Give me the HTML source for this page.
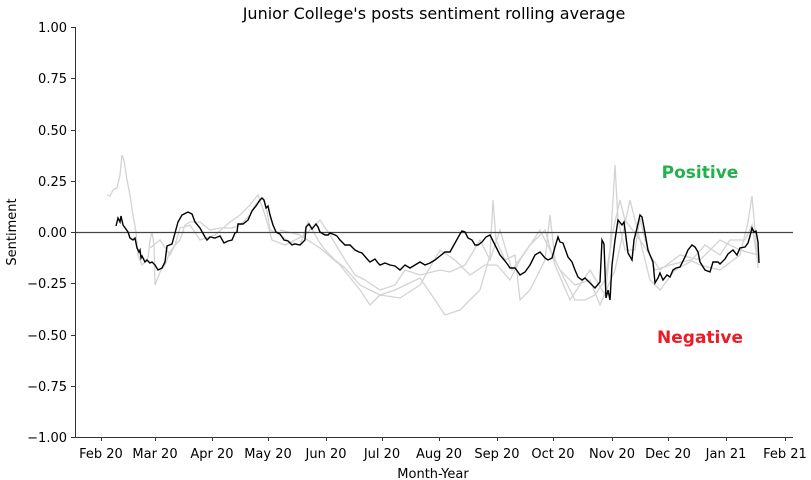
<!DOCTYPE html>
<html><head><meta charset="utf-8"><style>body{margin:0;background:#fff}svg{display:block;font-family:"DejaVu Sans","Liberation Sans",sans-serif}</style></head>
<body>
<svg width="811" height="480" viewBox="0 0 811 480">
<text x="434" y="19" font-size="16" text-anchor="middle">Junior College's posts sentiment rolling average</text>
<g fill="none" stroke="#d3d3d3" stroke-width="1.3">
<polyline points="107,195 110,196 113,190 117,188 120,175 122,155 124,160 127,180 130,195 133,215 136,232 138,255 142,265 145,262 148,258 150,240 152,232 154,245 155,285 160,272 165,265 170,252 175,245 180,240 185,225 190,222 200,222 210,230 220,228 232,228 240,225 250,215 255,205 262,198 266,205 270,230 275,232 280,235 290,242 300,245 308,222 318,240 325,250 335,260 345,268 360,285 370,290 380,295 395,290 420,278 435,300 445,315 460,310 480,290 490,255 493,200 496,240 505,260 515,255 520,300 530,290 545,260 550,215 555,260 565,280 575,300 585,300 595,295 605,280 610,250 615,165 618,220 625,250 635,250 640,218 645,240 655,270 670,265 690,260 700,265 720,270 740,255 748,222 752,196 755,230 758,268"/>
<polyline points="150,248 160,240 170,255 175,245 180,228 190,225 200,240 215,235 230,222 240,215 250,205 258,195 265,215 272,240 285,245 295,240 305,235 320,220 330,235 345,260 355,275 365,280 380,290 395,285 405,270 420,275 440,270 450,272 465,265 480,240 490,260 500,230 512,270 530,245 545,230 555,265 570,300 580,285 590,270 605,295 612,235 620,200 625,220 640,240 650,280 660,290 675,270 690,262 705,245 720,255 730,240 745,240 752,225 758,265"/>
<polyline points="280,230 300,235 320,248 340,265 360,290 370,305 380,295 400,298 420,285 440,250 455,260 470,275 485,265 497,265 510,280 520,260 540,230 560,270 575,285 590,280 600,305 615,270 630,200 640,240 660,270 680,255 700,260 720,240 740,250 758,255"/>
</g>
<line x1="75" y1="232.5" x2="793" y2="232.5" stroke="#444" stroke-width="1.3"/>
<polyline fill="none" stroke="#000" stroke-width="1.4" points="116,226 118,218 120,222 121,216 123,225 128,232 130,238 133,240 135,238 137,248 139,252 140,250 141,258 142,256 145,262 147,260 150,263 152,262 155,265 158,270 162,268 165,262 167,246 172,244 175,233 178,222 182,215 188,212 192,214 195,222 200,228 205,237 207,240 210,237 215,238 220,236 224,243 228,241 232,240 235,233 237,232 238,224 243,224 248,220 252,211 256,206 260,200 262,198 264,200 266,208 268,206 270,215 273,225 276,232 280,234 284,240 288,241 292,245 295,244 300,245 305,240 306,227 309,224 312,229 316,224 318,227 320,232 325,235 328,235 330,233 335,235 337,236 340,240 345,245 350,245 355,250 359,252 362,253 368,260 370,262 375,259 378,263 380,265 385,263 390,265 395,266 400,270 405,265 410,268 415,265 420,262 425,265 430,263 435,260 440,256 445,252 450,252 455,243 460,234 462,231 465,232 468,238 472,240 475,245 478,245 482,242 486,237 490,235 495,245 500,255 505,261 508,265 510,268 515,268 518,272 520,275 525,272 530,265 535,255 540,252 545,258 548,260 552,258 555,247 558,237 560,242 563,243 568,257 572,262 575,270 578,277 582,280 585,278 590,283 595,288 600,282 602,240 604,244 606,298 608,290 610,300 612,265 615,240 618,220 622,225 624,222 628,253 632,260 634,240 637,228 640,215 642,217 645,233 648,250 650,255 653,262 655,283 658,278 660,273 663,280 667,275 670,277 673,270 676,268 680,267 685,257 688,250 692,245 695,247 698,252 700,262 705,270 710,272 713,262 718,262 720,264 725,259 728,254 733,250 737,255 740,248 745,247 748,243 750,236 752,228 754,232 756,231 758,242 759,263"/>
<text x="700" y="178" font-size="17" font-weight="bold" fill="#22b14c" text-anchor="middle">Positive</text>
<text x="700" y="343" font-size="17" font-weight="bold" fill="#ed1c24" text-anchor="middle">Negative</text>
<g stroke="#333" stroke-width="1">
<line x1="75.5" y1="27" x2="75.5" y2="437"/>
<line x1="75" y1="437.5" x2="793" y2="437.5"/>
<line x1="71" y1="27.5" x2="75" y2="27.5"/><line x1="71" y1="78.5" x2="75" y2="78.5"/><line x1="71" y1="130.5" x2="75" y2="130.5"/><line x1="71" y1="181.5" x2="75" y2="181.5"/><line x1="71" y1="232.5" x2="75" y2="232.5"/><line x1="71" y1="283.5" x2="75" y2="283.5"/><line x1="71" y1="335.5" x2="75" y2="335.5"/><line x1="71" y1="386.5" x2="75" y2="386.5"/><line x1="71" y1="437.5" x2="75" y2="437.5"/>
<line x1="101.5" y1="437" x2="101.5" y2="441"/><line x1="155.5" y1="437" x2="155.5" y2="441"/><line x1="212.5" y1="437" x2="212.5" y2="441"/><line x1="268.5" y1="437" x2="268.5" y2="441"/><line x1="326.5" y1="437" x2="326.5" y2="441"/><line x1="382.5" y1="437" x2="382.5" y2="441"/><line x1="439.5" y1="437" x2="439.5" y2="441"/><line x1="497.5" y1="437" x2="497.5" y2="441"/><line x1="553.5" y1="437" x2="553.5" y2="441"/><line x1="612.5" y1="437" x2="612.5" y2="441"/><line x1="668.5" y1="437" x2="668.5" y2="441"/><line x1="726.5" y1="437" x2="726.5" y2="441"/><line x1="785.5" y1="437" x2="785.5" y2="441"/>
</g>
<g font-size="13" text-anchor="end">
<text x="67" y="32">1.00</text><text x="67" y="83">0.75</text><text x="67" y="135">0.50</text><text x="67" y="186">0.25</text><text x="67" y="237">0.00</text><text x="67" y="288">−0.25</text><text x="67" y="340">−0.50</text><text x="67" y="391">−0.75</text><text x="67" y="442">−1.00</text>
</g>
<g font-size="13" text-anchor="middle">
<text x="101" y="458">Feb 20</text><text x="155" y="458">Mar 20</text><text x="212" y="458">Apr 20</text><text x="268" y="458">May 20</text><text x="326" y="458">Jun 20</text><text x="382" y="458">Jul 20</text><text x="439" y="458">Aug 20</text><text x="497" y="458">Sep 20</text><text x="553" y="458">Oct 20</text><text x="612" y="458">Nov 20</text><text x="668" y="458">Dec 20</text><text x="726" y="458">Jan 21</text><text x="785" y="458">Feb 21</text>
<text x="433" y="478">Month-Year</text>
<text transform="translate(16,232) rotate(-90)">Sentiment</text>
</g>
</svg>
</body></html>
